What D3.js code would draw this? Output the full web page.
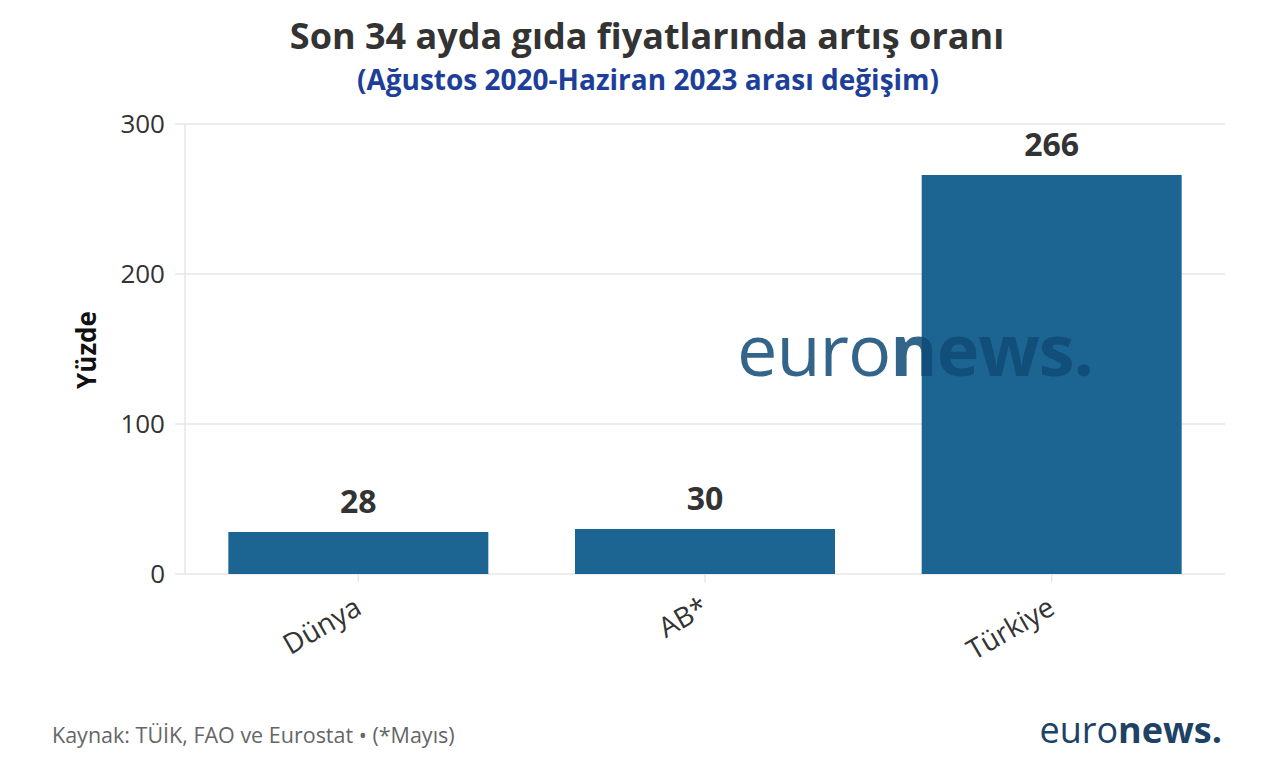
<!DOCTYPE html>
<html>
<head>
<meta charset="utf-8">
<script src="https://cdn.jsdelivr.net/npm/d3@7"></script>
<style>
  body { margin: 0; background: #fff; }
  text { font-family: "Open Sans", "Noto Sans", sans-serif; }
</style>
</head>
<body>
<div id="chart"></div>
<script>
// data
const categories = ['Dünya', 'AB*', 'Türkiye'];
const values = [28, 30, 266];
const yTicks = [0, 100, 200, 300];

const width = 1280, height = 769;
const margin = {top: 124, right: 55, bottom: 195, left: 185};
const innerW = width - margin.left - margin.right;
const innerH = height - margin.top - margin.bottom;

const svg = d3.select('#chart').append('svg')
    .attr('width', width)
    .attr('height', height);

const chart = svg.append('g')
    .attr('transform', `translate(${margin.left},${margin.top})`);

const data = categories.map((c, i) => ({key: c, value: values[i]}));

const x = d3.scaleBand()
    .domain(categories)
    .range([0, innerW])
    .paddingInner(0.25)
    .paddingOuter(0.125);

const y = d3.scaleLinear()
    .domain([0, 300])
    .range([innerH, 0]);

// gridlines
chart.append('g')
    .selectAll('line')
    .data(yTicks)
    .join('line')
    .attr('x1', -10)
    .attr('x2', innerW)
    .attr('y1', d => y(d))
    .attr('y2', d => y(d))
    .attr('stroke', '#e6e6e6')
    .attr('stroke-width', 1.5);

// vertical axis line
chart.append('line')
    .attr('x1', 0).attr('x2', 0)
    .attr('y1', 0).attr('y2', innerH)
    .attr('stroke', '#e6e6e6')
    .attr('stroke-width', 1.5);

// y axis labels
const yAxis = d3.axisLeft(y).tickValues(yTicks).tickSize(0).tickPadding(20);
const yAxisG = chart.append('g').call(yAxis);
yAxisG.select('.domain').remove();
yAxisG.selectAll('text')
    .attr('font-size', 26)
    .attr('fill', '#333')
    .attr('font-family', '"Open Sans", sans-serif');

// x axis
const xAxis = d3.axisBottom(x).tickSize(8);
const xAxisG = chart.append('g')
    .attr('transform', `translate(0,${innerH})`)
    .call(xAxis);
xAxisG.select('.domain').remove();
xAxisG.selectAll('line').attr('stroke', '#e6e6e6').attr('stroke-width', 1.5);
xAxisG.selectAll('text')
    .attr('font-size', 28)
    .attr('fill', '#333')
    .attr('font-family', '"Open Sans", sans-serif')
    .attr('text-anchor', 'end')
    .attr('x', 0)
    .attr('y', 0)
    .attr('dy', 0)
    .attr('transform', 'translate(5,39) rotate(-30)');

// bars
chart.append('g')
    .selectAll('rect')
    .data(data)
    .join('rect')
    .attr('x', d => x(d.key))
    .attr('y', d => y(d.value))
    .attr('width', x.bandwidth())
    .attr('height', d => innerH - y(d.value))
    .attr('fill', '#1c6592');

// value labels
chart.append('g')
    .selectAll('text')
    .data(data)
    .join('text')
    .attr('x', d => x(d.key) + x.bandwidth() / 2)
    .attr('y', d => y(d.value) - 19)
    .attr('text-anchor', 'middle')
    .attr('font-size', 32)
    .attr('font-weight', 'bold')
    .attr('fill', '#333')
    .text(d => d.value);

// watermark
const wm = svg.append('text')
    .attr('x', 737)
    .attr('y', 376)
    .attr('font-family', '"Noto Sans", sans-serif')
    .attr('font-size', 72)
    .attr('fill', '#0f4a75')
    .attr('fill-opacity', 0.85)
    .attr('letter-spacing', -1);
wm.append('tspan').attr('font-weight', 400).text('euro');
wm.append('tspan').attr('font-weight', 'bold').text('news.');

// y axis title
svg.append('text')
    .attr('transform', 'translate(96,350) rotate(-90)')
    .attr('text-anchor', 'middle')
    .attr('font-size', 26)
    .attr('font-weight', 'bold')
    .attr('fill', '#111')
    .text('Yüzde');

// titles
svg.append('text')
    .attr('x', 647)
    .attr('y', 49)
    .attr('text-anchor', 'middle')
    .attr('font-size', 36)
    .attr('font-weight', 'bold')
    .attr('fill', '#333')
    .text('Son 34 ayda gıda fiyatlarında artış oranı');

svg.append('text')
    .attr('x', 648)
    .attr('y', 90)
    .attr('text-anchor', 'middle')
    .attr('font-size', 28)
    .attr('font-weight', 'bold')
    .attr('fill', '#1e3f99')
    .text('(Ağustos 2020-Haziran 2023 arası değişim)');

// footer
svg.append('text')
    .attr('x', 52)
    .attr('y', 743)
    .attr('font-size', 21.5)
    .attr('fill', '#666')
    .text('Kaynak: TÜİK, FAO ve Eurostat • (*Mayıs)');

const logo = svg.append('text')
    .attr('x', 1222)
    .attr('y', 743)
    .attr('text-anchor', 'end')
    .attr('font-family', '"Noto Sans", sans-serif')
    .attr('font-size', 36)
    .attr('fill', '#1d4266');
logo.append('tspan').attr('font-weight', 400).text('euro');
logo.append('tspan').attr('font-weight', 'bold').text('news.');
</script>
</body>
</html>
